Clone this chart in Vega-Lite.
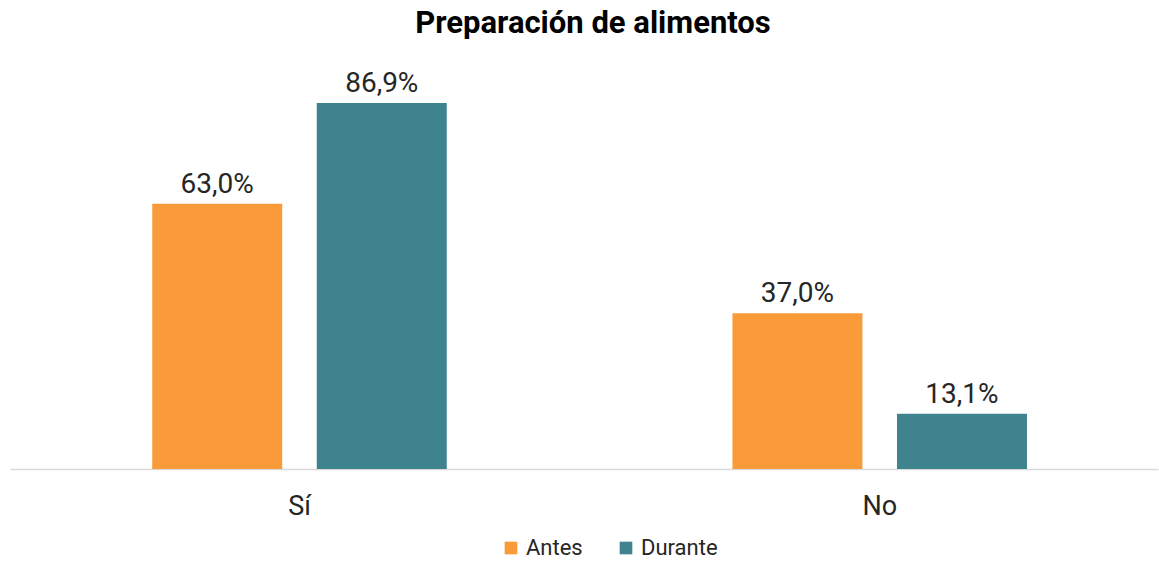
{
  "$schema": "https://vega.github.io/schema/vega-lite/v6.json",
  "width": 1148,
  "height": 400,
  "padding": {"left": 10, "right": 1, "top": 8, "bottom": 0},
  "background": "white",
  "title": {
    "text": "Preparación de alimentos",
    "font": "Roboto",
    "fontSize": 31,
    "fontWeight": "bold",
    "color": "#000000",
    "anchor": "middle",
    "dx": 9,
    "offset": 29
  },
  "config": {
    "view": {"stroke": null},
    "font": "Roboto"
  },
  "data": {
    "values": [
      {"respuesta": "Sí", "periodo": "Antes", "valor": 63.0, "etiqueta": "63,0%"},
      {"respuesta": "Sí", "periodo": "Durante", "valor": 86.9, "etiqueta": "86,9%"},
      {"respuesta": "No", "periodo": "Antes", "valor": 37.0, "etiqueta": "37,0%"},
      {"respuesta": "No", "periodo": "Durante", "valor": 13.1, "etiqueta": "13,1%"}
    ]
  },
  "encoding": {
    "x": {
      "field": "respuesta",
      "type": "nominal",
      "sort": ["Sí", "No"],
      "scale": {"paddingInner": 0.4924, "paddingOuter": 0.2355, "align": 0.5205},
      "axis": {
        "title": null,
        "labelAngle": 0,
        "labelFont": "Roboto",
        "labelFontSize": 27,
        "labelColor": "#262626",
        "labelPadding": 24,
        "ticks": false,
        "domainColor": "#d9d9d9",
        "domainWidth": 1.5
      }
    },
    "xOffset": {
      "field": "periodo",
      "type": "nominal",
      "sort": ["Antes", "Durante"],
      "scale": {"paddingInner": 0.21, "paddingOuter": 0}
    },
    "y": {
      "field": "valor",
      "type": "quantitative",
      "scale": {"domain": [0, 95], "nice": false, "zero": true},
      "axis": null
    }
  },
  "layer": [
    {
      "mark": {"type": "bar"},
      "encoding": {
        "color": {
          "field": "periodo",
          "type": "nominal",
          "sort": ["Antes", "Durante"],
          "scale": {"domain": ["Antes", "Durante"], "range": ["#F99B38", "#3E838E"]},
          "legend": {
            "title": null,
            "orient": "none",
            "legendX": 490,
            "legendY": 468,
            "direction": "horizontal",
            "symbolType": "square",
            "symbolSize": 160,
            "symbolStrokeWidth": 0,
            "labelFont": "Roboto",
            "labelFontSize": 22,
            "labelColor": "#262626",
            "columnPadding": 32
          }
        }
      }
    },
    {
      "mark": {"type": "text", "baseline": "alphabetic", "dy": -11, "fontSize": 28, "color": "#262626", "font": "Roboto"},
      "encoding": {
        "text": {"field": "etiqueta", "type": "nominal"}
      }
    }
  ]
}
